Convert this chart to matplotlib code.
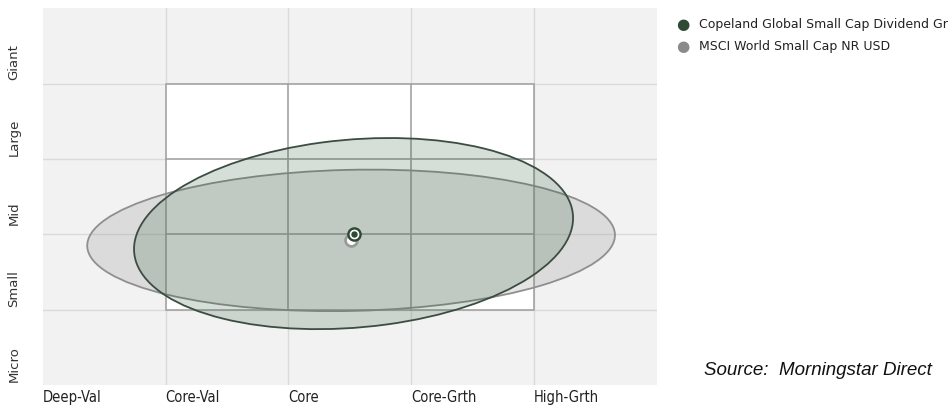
import matplotlib.pyplot as plt
from matplotlib.patches import Ellipse, Rectangle

# style box labels
style_labels = ["Deep-Val", "Core-Val", "Core", "Core-Grth", "High-Grth"]
size_labels = ["Micro", "Small", "Mid", "Large", "Giant"]

# ownership zones (data units: 1 = one style/size column)
# fund name is shown as far as the cropped reference shows it
series = ["Copeland Global Small Cap Dividend Gr", "MSCI World Small Cap NR USD"]
centroid_x = [2.53, 2.51]
centroid_y = [2.01, 1.92]
zone_width = [3.62, 4.30]
zone_height = [2.47, 1.87]
zone_angle = [12.4, 2.3]

dark_green = "#2e4a35"
mid_gray = "#8a8a8a"

fig = plt.figure(figsize=(9.52, 4.05), dpi=100)
ax = fig.add_axes([0.045, 0.049, 0.645, 0.931])
ax.set_xlim(0, 5)
ax.set_ylim(0, 5)
ax.set_facecolor("#f2f2f2")
for s in ax.spines.values():
    s.set_visible(False)
ax.set_xticks([])
ax.set_yticks([])

# light outer grid
for v in range(1, 5):
    ax.axvline(v, color="#dadada", lw=1, zorder=1)
    ax.axhline(v, color="#dadada", lw=1, zorder=1)

# inner 3x3 style box
ax.add_patch(Rectangle((1, 1), 3, 3, facecolor="white", edgecolor="#a3a3a3", lw=1.2, zorder=2))
for v in (2, 3):
    ax.plot([v, v], [1, 4], color="#a3a3a3", lw=1.2, zorder=2)
    ax.plot([1, 4], [v, v], color="#a3a3a3", lw=1.2, zorder=2)

# benchmark zone first, fund on top
ax.add_patch(Ellipse((centroid_x[1], centroid_y[1]), zone_width[1], zone_height[1], angle=zone_angle[1],
                     facecolor=(0.55, 0.55, 0.55, 0.22), edgecolor="#8f8f8f", lw=1.3, zorder=3))
ax.add_patch(Ellipse((centroid_x[0], centroid_y[0]), zone_width[0], zone_height[0], angle=zone_angle[0],
                     facecolor=(0.2, 0.36, 0.24, 0.2), edgecolor="#3b4d40", lw=1.3, zorder=4))

# centroids
ax.plot(centroid_x[1], centroid_y[1], "o", ms=9.5, color="#9a9a9a", zorder=5)
ax.plot(centroid_x[1], centroid_y[1], "o", ms=5.5, color="white", zorder=5)
ax.plot(centroid_x[0], centroid_y[0], "o", ms=9.5, color=dark_green, zorder=6)
ax.plot(centroid_x[0], centroid_y[0], "o", ms=6, color="white", zorder=6)
ax.plot(centroid_x[0], centroid_y[0], "o", ms=3.6, color=dark_green, zorder=6)

# axis labels
for i, lab in enumerate(style_labels):
    ax.text(i, -0.06, lab, ha="left", va="top", fontsize=10.5, color="#222222",
            family="DejaVu Sans", stretch="condensed", clip_on=False)
for i, lab in enumerate(size_labels):
    ax.text(-0.235, i + 0.5 - 0.22, lab, ha="center", va="center", rotation=90, fontsize=9.5,
            color="#333333", clip_on=False)

# legend
leg_y = [0.94, 0.884]
leg_col = [dark_green, mid_gray]
for name, y, c in zip(series, leg_y, leg_col):
    fig.text(0.7175, y, "\u25cf", color=c, fontsize=11, ha="center", va="center")
    fig.text(0.734, y, name, fontsize=9.0, color="#222222", ha="left", va="center",
             family="DejaVu Sans")

fig.text(0.74, 0.085, "Source:  Morningstar Direct", fontsize=13.5, style="italic",
         family="Liberation Sans", color="#111111", ha="left", va="center")

fig.savefig("out.png", dpi=100)
